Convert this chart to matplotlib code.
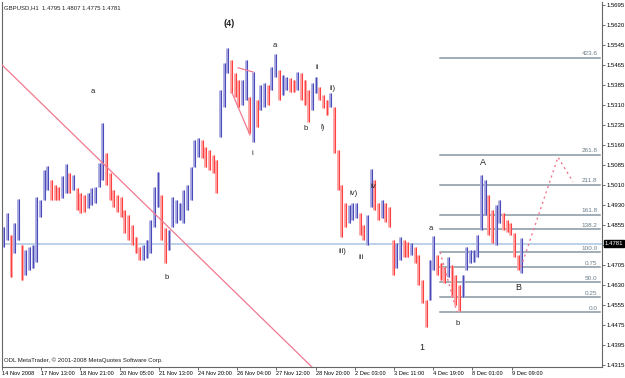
import numpy as np
import matplotlib
matplotlib.use("Agg")
import matplotlib.pyplot as plt

# GBPUSD, bars grouped by 3 hours
bar_high = [1.4844, 1.4898, 1.4813, 1.4859, 1.4951, 1.4775, 1.4756, 1.4767, 1.4775, 1.4959,
            1.4948, 1.5063, 1.5078, 1.5024, 1.5005, 1.4997, 1.5040, 1.5086, 1.5051, 1.5043,
            1.4994, 1.4974, 1.4967, 1.4974, 1.4994, 1.4997, 1.5089, 1.5243, 1.5128, 1.5051,
            1.4986, 1.4967, 1.4959, 1.4909, 1.4890, 1.4852, 1.4806, 1.4767, 1.4775, 1.4794,
            1.4871, 1.4997, 1.5055, 1.4967, 1.4840, 1.4833, 1.4959, 1.4948, 1.4936, 1.4986,
            1.5005, 1.5074, 1.5177, 1.5185, 1.5177, 1.5150, 1.5139, 1.5120, 1.5101, 1.5369,
            1.5473, 1.5530, 1.5484, 1.5434, 1.5408, 1.5408, 1.5484, 1.5342, 1.5438, 1.5331,
            1.5388, 1.5396, 1.5388, 1.5457, 1.5507, 1.5446, 1.5427, 1.5419, 1.5415, 1.5408,
            1.5438, 1.5434, 1.5408, 1.5369, 1.5396, 1.5419, 1.5381, 1.5350, 1.5331, 1.5358,
            1.5304, 1.5139, 1.5005, 1.4936, 1.4928, 1.4936, 1.4936, 1.4898, 1.4852, 1.4890,
            1.5066, 1.5024, 1.4936, 1.4948, 1.4936, 1.4921, 1.4794, 1.4783, 1.4806, 1.4794,
            1.4787, 1.4783, 1.4767, 1.4737, 1.4641, 1.4564, 1.4718, 1.4810, 1.4737, 1.4706,
            1.4691, 1.4729, 1.4698, 1.4660, 1.4622, 1.4660, 1.4767, 1.4756, 1.4756, 1.4813,
            1.5043, 1.5024, 1.4967, 1.4909, 1.4928, 1.4948, 1.4898, 1.4871, 1.4859, 1.4821,
            1.4737, 1.4802]
bar_low = [1.4767, 1.4794, 1.4652, 1.4744, 1.4794, 1.4641, 1.4660, 1.4679, 1.4687, 1.4710,
           1.4882, 1.4948, 1.4986, 1.4948, 1.4948, 1.4948, 1.4955, 1.4974, 1.4974, 1.4986,
           1.4909, 1.4898, 1.4902, 1.4917, 1.4928, 1.4936, 1.4997, 1.5024, 1.5005, 1.4948,
           1.4921, 1.4902, 1.4882, 1.4821, 1.4794, 1.4775, 1.4744, 1.4718, 1.4718, 1.4725,
           1.4744, 1.4844, 1.4921, 1.4794, 1.4706, 1.4756, 1.4844, 1.4859, 1.4871, 1.4859,
           1.4909, 1.4948, 1.5074, 1.5112, 1.5109, 1.5074, 1.5063, 1.5051, 1.4974, 1.5189,
           1.5304, 1.5434, 1.5358, 1.5342, 1.5304, 1.5312, 1.5331, 1.5204, 1.5170, 1.5227,
           1.5293, 1.5304, 1.5312, 1.5369, 1.5419, 1.5331, 1.5350, 1.5369, 1.5362, 1.5362,
           1.5369, 1.5331, 1.5312, 1.5247, 1.5293, 1.5358, 1.5331, 1.5300, 1.5273, 1.5304,
           1.5128, 1.4986, 1.4806, 1.4844, 1.4859, 1.4871, 1.4879, 1.4813, 1.4794, 1.4775,
           1.4921, 1.4909, 1.4871, 1.4879, 1.4863, 1.4844, 1.4660, 1.4687, 1.4718, 1.4729,
           1.4729, 1.4737, 1.4706, 1.4622, 1.4553, 1.4461, 1.4564, 1.4679, 1.4660, 1.4641,
           1.4629, 1.4652, 1.4576, 1.4545, 1.4522, 1.4576, 1.4679, 1.4706, 1.4710, 1.4729,
           1.4833, 1.4890, 1.4813, 1.4783, 1.4775, 1.4859, 1.4833, 1.4825, 1.4813, 1.4729,
           1.4679, 1.4668]
hours_per_bar = 3
last_price = 1.4781

x_labels = ["14 Nov 2008", "17 Nov 13:00", "18 Nov 21:00", "20 Nov 05:00", "21 Nov 13:00",
            "24 Nov 20:00", "26 Nov 04:00", "27 Nov 12:00", "28 Nov 20:00", "2 Dec 03:00",
            "3 Dec 11:00", "4 Dec 19:00", "8 Dec 01:00", "9 Dec 09:00"]
y_labels = ["1.5695", "1.5620", "1.5545", "1.5465", "1.5385", "1.5310", "1.5235", "1.5160",
            "1.5085", "1.5010", "1.4930", "1.4855", "", "1.4705", "1.4630", "1.4555",
            "1.4475", "1.4395", "1.4315"]

fib_low, fib_high = 1.4518, 1.4748
fib_ratios = [0.0, 0.25, 0.5, 0.75, 1.0, 1.382, 1.618, 2.118, 2.618, 4.236]
fib_names = ["0.0", "0.25", "50.0", "0.75", "100.0", "138.2", "161.8", "211.8", "261.8", "423.6"]

trend_h, trend_p = [0, 253], [1.5465, 1.4308]
wedge_up_h, wedge_up_p = [192.7, 204.9], [1.5454, 1.5438]
wedge_dn_h, wedge_dn_p = [187.8, 202.4], [1.5358, 1.5197]
proj1_h, proj1_p = [357.6, 371.4], [1.4748, 1.4518]
proj2_h, proj2_p = [423.7, 453.9, 466.1], [1.4691, 1.5112, 1.5017]

waves = [("a", 74.3, 1.5365), ("b", 134.7, 1.4649), ("a", 222.9, 1.5538), ("ii", 257.1, 1.5457),
         ("ii)", 269.4, 1.5373), ("b", 248.2, 1.5220), ("i)", 262.0, 1.5227), ("i", 204.1, 1.5124),
         ("iv)", 287.3, 1.4974), ("iv", 302.9, 1.5001), ("iii)", 277.6, 1.4752),
         ("iii", 293.1, 1.4729), ("a", 350.2, 1.4840), ("b", 372.2, 1.4476)]
big_waves = [("(4)", 185.3, 1.5622), ("1", 342.9, 1.4384), ("A", 392.7, 1.5093), ("B", 421.2, 1.4614)]

plt.rcParams["font.family"] = ["Liberation Sans", "DejaVu Sans"]
fig = plt.figure(figsize=(6.25, 3.78), dpi=100)
ax = fig.add_axes([2 / 625, 11 / 378, 600 / 625, 365 / 378])

hi = np.array(bar_high)
lo = np.array(bar_low)
t = np.arange(len(hi)) * hours_per_bar + 1
mid = (hi + lo) / 2
up = np.r_[True, mid[1:] >= mid[:-1]]
pale = np.where(up, "#a6a6e0", "#ffa0a0")
strong = np.where(up, "#4a4ab8", "#ff4040")
ax.vlines(t, lo, hi, colors=pale, lw=2.0, zorder=2)
ax.vlines(t + 0.7, lo, hi, colors=strong, lw=0.8, zorder=3)

ax.axhline(last_price, color="#b0c8e4", lw=1.2, zorder=1)
ax.plot(trend_h, trend_p, color="#f07890", lw=0.9, zorder=4)
ax.plot(wedge_up_h, wedge_up_p, color="#f07890", lw=0.9, zorder=4)
ax.plot(wedge_dn_h, wedge_dn_p, color="#f07890", lw=0.9, zorder=4)
ax.plot(proj1_h, proj1_p, color="#f07890", lw=1.0, ls=(0, (1.5, 2.5)), zorder=4)
ax.plot(proj2_h, proj2_p, color="#f07890", lw=1.0, ls=(0, (1.5, 2.5)), zorder=4)

for r, name in zip(fib_ratios, fib_names):
    lvl = fib_low + r * (fib_high - fib_low)
    ax.plot([357.6, 488], [lvl, lvl], color="#8797a3", lw=1.1, zorder=1)
    ax.text(486, lvl + 0.0006, name, fontsize=4.6, color="#6a7d8a", ha="right", va="bottom")

for s, h, p in waves:
    ax.text(h, p, s, fontsize=5.5, ha="center", va="center", color="#222222")
for s, h, p in big_waves:
    ax.text(h, p, s, fontsize=6.5, ha="center", va="center", color="#222222",
            fontweight="bold" if s == "(4)" else "normal")

ax.text(0.004, 0.99, "GBPUSD,H1  1.4795 1.4807 1.4775 1.4781", transform=ax.transAxes,
        fontsize=4.3, va="top", ha="left", color="#222222")
ax.text(0.004, 0.012, "ODL MetaTrader, \u00a9 2001-2008 MetaQuotes Software Corp.",
        transform=ax.transAxes, fontsize=4.3, va="bottom", ha="left", color="#222222")

ax.set_xlim(0, 489.8)
ax.set_ylim(1.4308, 1.5706)
ax.set_xticks(np.arange(len(x_labels)) * 32)
ax.set_xticklabels(x_labels, fontsize=4.1, ha="left")
yt = 1.5695 - np.arange(len(y_labels)) * 0.0076665
ax.yaxis.tick_right()
ax.set_yticks(yt)
ax.set_yticklabels(y_labels, fontsize=4.3)
ax.tick_params(axis="both", length=2, width=0.6, color="#555555", pad=1)
ax.text(1.005, last_price, "1.4781", transform=ax.get_yaxis_transform(), fontsize=4.3,
        color="white", va="center", ha="left",
        bbox=dict(boxstyle="square,pad=0.15", fc="black", ec="black"))

for side in ["left", "bottom", "right"]:
    ax.spines[side].set_color("#666666")
    ax.spines[side].set_linewidth(0.8)
ax.spines["top"].set_visible(False)

fig.savefig("out.png", dpi=100)
